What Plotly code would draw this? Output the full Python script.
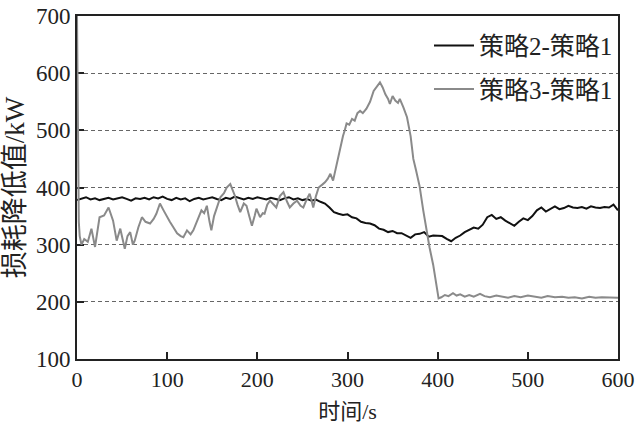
import plotly.graph_objects as go

# 策略2-策略1 (black)
t_black = list(range(0, 601, 5))
v_black = [378, 380, 383, 379, 381, 378, 380, 382, 379, 381, 383, 380, 377, 381, 380, 382,
           379, 383, 381, 384, 380, 378, 382, 379, 381, 376, 380, 382, 379, 381, 383, 380,
           378, 382, 380, 384, 381, 379, 382, 380, 383, 381, 379, 382, 380, 378, 381, 383,
           379, 381, 378, 380, 377, 379, 375, 372, 365, 357, 354, 352, 353, 348, 346, 340,
           338, 337, 334, 328, 326, 322, 324, 320, 320, 316, 312, 318, 319, 322, 314, 316,
           316, 315, 310, 306, 312, 316, 322, 326, 330, 328, 335, 348, 352, 345, 348, 342,
           338, 333, 340, 346, 343, 350, 360, 365, 358, 362, 367, 362, 364, 368, 365, 364,
           366, 363, 367, 365, 364, 366, 365, 370, 360]

# 策略3-策略1 (gray)
t_gray = [0, 1, 2, 3, 5, 8, 12, 16, 20, 25, 30, 35, 38, 40, 44, 48, 53, 56, 59, 62, 64, 68,
          72, 76, 81, 85, 88, 92, 96, 99, 103, 107, 111, 115, 118, 122, 126, 129, 133, 138,
          141, 144, 147, 149, 152, 155, 159, 163, 166, 170, 173, 175, 178, 181, 185, 188,
          191, 194, 197, 199, 203, 206, 208, 211, 214, 218, 221, 225, 229, 233, 236, 240,
          244, 248, 251, 255, 258, 260, 262, 265, 268, 272, 275, 278, 281, 284, 287, 290,
          292, 295, 297, 299, 302, 305, 308, 311, 314, 317, 321, 325, 329, 332, 336, 339,
          342, 345, 347, 350, 353, 356, 358, 362, 366, 370, 373, 376, 380, 384, 388, 391,
          395, 398, 401, 404, 408, 412, 417, 421, 425, 430, 435, 440, 447, 452, 458, 465,
          472, 478, 485, 492, 500, 507, 515, 522, 530, 538, 545, 552, 560, 568, 575, 582,
          590, 600]
v_gray = [700, 480, 340, 315, 300, 310, 305, 328, 296, 348, 351, 365, 350, 342, 307, 328,
          293, 315, 322, 300, 307, 330, 348, 340, 337, 345, 354, 372, 360, 351, 340, 330,
          320, 315, 313, 325, 318, 325, 340, 360, 355, 368, 340, 325, 350, 365, 383, 390,
          400, 406, 395, 386, 370, 357, 372, 368, 350, 333, 350, 363, 348, 355, 354, 370,
          377, 370, 365, 385, 392, 375, 365, 372, 377, 368, 365, 380, 389, 378, 365, 385,
          400, 405, 409, 415, 424, 412, 435, 455, 470, 490, 500, 512, 510, 520, 517, 530,
          534, 530, 538, 550, 569, 575, 584, 575, 563, 555, 546, 560, 552, 548, 555, 540,
          523, 490, 450, 430, 402, 360, 322, 295, 265, 235, 206, 208, 212, 210, 215, 211,
          213, 209, 212, 209, 214, 210, 208, 211, 209, 207, 210, 208, 211, 209, 207, 210,
          208, 209, 207, 208, 206, 209, 207, 208, 207, 207]

x_ticks = [0, 100, 200, 300, 400, 500, 600]
y_ticks = [100, 200, 300, 400, 500, 600, 700]

FONT = "Liberation Serif, Times New Roman, Noto Sans CJK SC, serif"

fig = go.Figure()
fig.add_trace(go.Scatter(x=t_black, y=v_black, mode="lines", name="策略2-策略1",
                         line=dict(color="#111111", width=2), legendgroup="a"))
fig.add_trace(go.Scatter(x=t_gray, y=v_gray, mode="lines", name="策略3-策略1",
                         line=dict(color="#8a8a8a", width=2), legendgroup="b"))

axis_common = dict(
    showline=True, linecolor="#222222", linewidth=2, mirror=True,
    ticks="inside", ticklen=7, tickwidth=1.5, tickcolor="#222222",
    zeroline=False, layer="below traces", automargin=False,
    ticklabeloverflow="allow",
)

fig.update_layout(
    width=640, height=427,
    margin=dict(l=77, r=22, t=16, b=68),
    paper_bgcolor="white", plot_bgcolor="white",
    font=dict(family=FONT, size=22, color="#222222"),
    xaxis=dict(range=[0, 600], tickvals=x_ticks, showgrid=False,
               tickfont=dict(family=FONT, size=22, color="#222222"),
               title=dict(text="时间/s", font=dict(family=FONT, size=22), standoff=12),
               **axis_common),
    yaxis=dict(range=[100, 700], tickvals=y_ticks, showgrid=True,
               gridcolor="#666666", gridwidth=1, griddash="4px,3px",
               tickfont=dict(family=FONT, size=23, color="#222222"),
               title=dict(text="损耗降低值/kW", font=dict(family=FONT, size=27), standoff=7),
               **axis_common),
    showlegend=True,
    legend=dict(x=1, xanchor="right", y=0.98, yanchor="top",
                bgcolor="rgba(0,0,0,0)", font=dict(family=FONT, size=25, color="#222222"),
                traceorder="grouped", tracegroupgap=8, itemwidth=40),
)

# remove the page's default 8px body margin so the 640x427 figure fills the window
fig.write_html("out.html", config={"displayModeBar": False},
               post_script="document.body.style.margin='0';")
